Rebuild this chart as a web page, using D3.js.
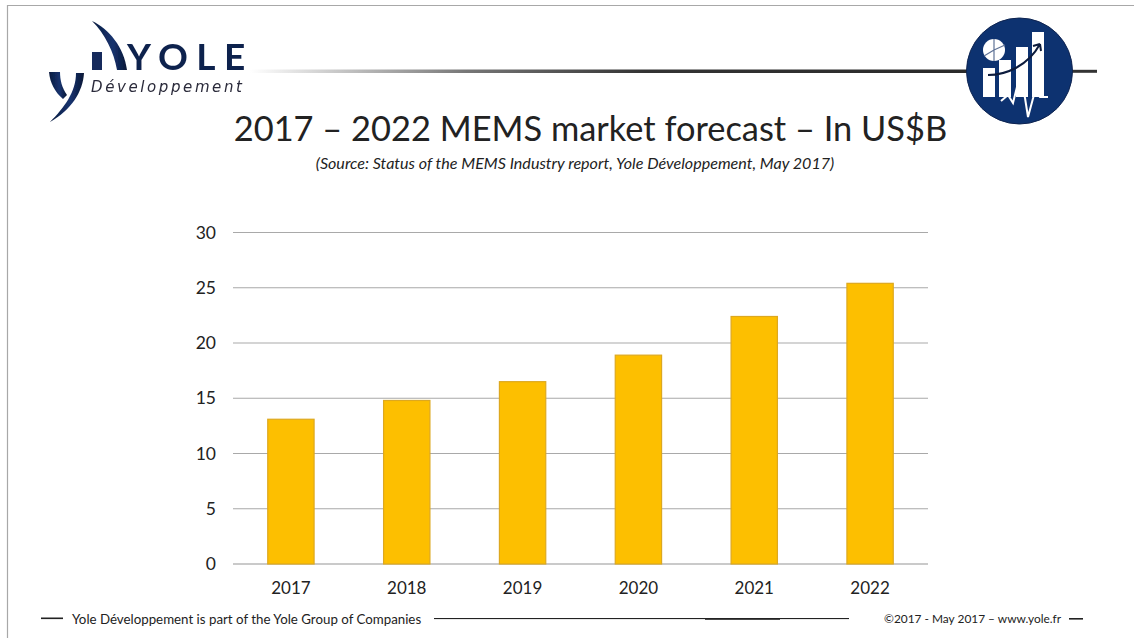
<!DOCTYPE html>
<html>
<head>
<meta charset="utf-8">
<script src="https://cdn.jsdelivr.net/npm/d3@7"></script>
<style>
html,body{margin:0;padding:0;background:#fff}
svg{display:block}
text{font-family:Lato,"Open Sans",sans-serif;fill:#222}
</style>
</head>
<body>
<svg id="c" width="1134" height="638"></svg>
<script>
const years = ["2017","2018","2019","2020","2021","2022"];
const marketUSDb = [13.1, 14.8, 16.5, 18.9, 22.4, 25.4];
const yTicks = [0,5,10,15,20,25,30];
const titleText = "2017 – 2022 MEMS market forecast – In US$B";
const sourceText = "(Source: Status of the MEMS Industry report, Yole Développement, May 2017)";
const footerLeft = "Yole Développement is part of the Yole Group of Companies";
const footerRight = "©2017 - May 2017 – www.yole.fr";

const svg = d3.select("#c");
const defs = svg.append("defs");
const grad = defs.append("linearGradient").attr("id","rule");
grad.append("stop").attr("offset","0").attr("stop-color","#fff");
grad.append("stop").attr("offset","0.3").attr("stop-color","#777");
grad.append("stop").attr("offset","0.55").attr("stop-color","#333");
grad.append("stop").attr("offset","1").attr("stop-color","#2a2a2a");
const navy = defs.append("linearGradient").attr("id","navy").attr("x1","0").attr("x2","1");
navy.append("stop").attr("offset","0").attr("stop-color","#0b1c3f");
navy.append("stop").attr("offset","0.6").attr("stop-color","#16336f");
navy.append("stop").attr("offset","1").attr("stop-color","#0a1735");
const soft = defs.append("filter").attr("id","soft");
soft.append("feGaussianBlur").attr("stdDeviation","0.45");

// Slide frame: top and left edges
svg.append("path").attr("d","M1134 5.5H7.5V638").attr("fill","none").attr("stroke","#a8a8a8").attr("stroke-width",1.2);

// Header rule fading in from the logo
svg.append("rect").attr("x",250).attr("y",69.5).attr("width",720).attr("height",3.5).attr("fill","url(#rule)");
svg.append("rect").attr("x",1070).attr("y",69.8).attr("width",27).attr("height",3).attr("fill","#333");

// Company logo
const logo = svg.append("g").attr("filter","url(#soft)");
logo.append("path").attr("fill","url(#navy)")
  .attr("d","M92 21C109 29 124 47 127 70L117 70C114 52 105 34 92 21Z");
logo.append("rect").attr("x",92).attr("y",52).attr("width",10).attr("height",18).attr("fill","#12295c");
logo.append("path").attr("fill","url(#navy)")
  .attr("d","M49 72L60 72C60 80 62 88 67 95L63 99C55 92 50 83 49 72Z");
logo.append("path").attr("fill","url(#navy)")
  .attr("d","M76 73L84 73C83 92 71 110 50 122C64 108 76 92 76 73Z");
logo.append("text").attr("x",127).attr("y",70).attr("font-size",37).attr("font-weight",700)
  .attr("letter-spacing",8.5).style("fill","#10214d").text("YOLE");
logo.append("text").attr("x",91).attr("y",91.5).attr("font-size",15).attr("font-style","italic")
  .attr("letter-spacing",2.6).style("font-family","'DejaVu Sans'").style("fill","#2a2a3a").text("Développement");

// Round market badge
const bx = 1019.5, by = 71, badge = svg.append("g").attr("filter","url(#soft)");
badge.append("circle").attr("cx",bx).attr("cy",by).attr("r",53).attr("fill","#11336f").attr("stroke","#0c2350").attr("stroke-width",1);
const white = "#fff", ink = "#0a1a3c";
badge.append("rect").attr("x",983).attr("y",68).attr("width",12).attr("height",29).attr("fill",white);
badge.append("rect").attr("x",999).attr("y",60).attr("width",12).attr("height",37).attr("fill",white);
badge.append("rect").attr("x",1016).attr("y",47).attr("width",12).attr("height",50).attr("fill",white);
badge.append("rect").attr("x",1032).attr("y",32).attr("width",12).attr("height",65).attr("fill",white);
badge.append("circle").attr("cx",994).attr("cy",50).attr("r",11).attr("fill",white);
badge.append("path").attr("d","M994 39V61M994 50L984 56M994 50L1005 45").attr("fill","none").attr("stroke","#5f7296").attr("stroke-width",1.2);
badge.append("path").attr("d","M988 75C1006 75 1028 66 1040 44M1040 44L1033 46M1040 44L1041 51").attr("fill","none").attr("stroke",ink).attr("stroke-width",2);
badge.append("path").attr("d","M1001 101L1008 95L1013 103L1020 75L1025 98L1028 117L1035 91L1040 97H1048")
  .attr("fill","none").attr("stroke",white).attr("stroke-width",2);

// Titles
svg.append("text").attr("x",590.5).attr("y",141).attr("text-anchor","middle").attr("font-size",34.4).text(titleText);
svg.append("text").attr("x",575).attr("y",169).attr("text-anchor","middle").attr("font-size",16.1).attr("font-style","italic").text(sourceText);

// Chart
const x = d3.scaleBand().domain(years).range([233,928]).paddingInner(0.6).paddingOuter(0.3);
const y = d3.scaleLinear().domain([0,30]).range([564,232.5]);

const yAxis = d3.axisLeft(y).tickValues(yTicks).tickSize(0).tickPadding(17);
const gy = svg.append("g").attr("transform","translate(233,0)").call(yAxis);
gy.select(".domain").remove();
gy.selectAll("text").attr("font-size",17.5).style("font-family","Lato,sans-serif");

svg.append("g").selectAll("line").data(yTicks).join("line")
  .attr("x1",233).attr("x2",928).attr("y1",d=>y(d)).attr("y2",d=>y(d))
  .attr("stroke",d=>d===0?"#b8b8b8":"#a9a9a9").attr("stroke-width",d=>d===0?1.6:1.2);

svg.append("g").selectAll("rect").data(marketUSDb).join("rect")
  .attr("x",(d,i)=>x(years[i])).attr("width",x.bandwidth())
  .attr("y",d=>y(d)).attr("height",d=>y(0)-y(d))
  .attr("fill","#fdbf00").attr("stroke","#dda81f").attr("stroke-width",1.2);

const xAxis = d3.axisBottom(x).tickSize(0).tickPadding(18);
const gx = svg.append("g").attr("transform","translate(0,564)").call(xAxis);
gx.select(".domain").remove();
gx.selectAll("text").attr("font-size",17).style("font-family","Lato,sans-serif");

// Footer
svg.append("rect").attr("x",41).attr("y",617.5).attr("width",22).attr("height",1.6).attr("fill","#222");
svg.append("text").attr("x",72).attr("y",624).attr("font-size",13.3).text(footerLeft);
svg.append("rect").attr("x",434).attr("y",618).attr("width",415).attr("height",1.1).attr("fill","#222");
svg.append("rect").attr("x",705).attr("y",618).attr("width",75).attr("height",1.8).attr("fill","#222");
svg.append("text").attr("x",884).attr("y",623).attr("font-size",11.9).text(footerRight);
svg.append("rect").attr("x",1069).attr("y",618).attr("width",14).attr("height",1.6).attr("fill","#222");
</script>
</body>
</html>
